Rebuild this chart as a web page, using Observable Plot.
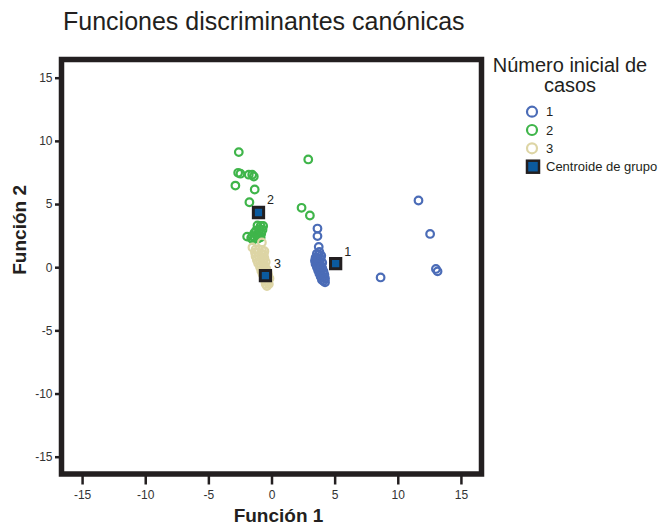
<!DOCTYPE html>
<html><head><meta charset="utf-8">
<script src="https://cdn.jsdelivr.net/npm/d3@7"></script>
<script src="https://cdn.jsdelivr.net/npm/@observablehq/plot@0.6"></script>
<style>
body{margin:0;background:#fff;}
#wrap{position:relative;width:663px;height:526px;font-family:"Liberation Sans",Arial,sans-serif;color:#231f20;background:#fff;}
#chart{position:absolute;left:0;top:0;}
#title{position:absolute;left:63px;top:9px;font-size:25px;line-height:25px;white-space:nowrap;}
#legtitle{position:absolute;left:490px;top:55px;width:160px;text-align:center;font-size:20px;line-height:20px;}
#legend{position:absolute;left:520px;top:100px;overflow:visible;}
</style></head><body>
<div id="wrap">
  <div id="chart"></div>
  <div id="title">Funciones discriminantes canónicas</div>
  <div id="legtitle">Número inicial de<br>casos</div>
  <svg id="legend" width="143" height="78"></svg>
</div>
<script>
// Group 1 (Número inicial de casos = 1)
const group1 = [
  [3.6,3.1],[3.6,2.5],[3.7,1.65],
  [3.75,1.25],[3.55,1.1],[3.7,1.0],[3.9,0.95],[3.45,0.8],[3.6,0.75],[3.85,0.7],[3.4,0.55],[3.55,0.5],[3.75,0.45],[3.98,0.4],
  [3.45,0.3],[3.6,0.25],[3.85,0.2],[3.55,0.05],[3.7,0.0],[3.98,-0.05],[3.65,-0.2],[3.8,-0.25],[4.08,-0.3],[3.75,-0.45],[3.9,-0.5],[4.15,-0.55],
  [3.85,-0.7],[4.0,-0.75],[4.2,-0.85],[3.95,-0.95],[4.08,-1.05],[4.2,-1.15],[3.65,0.6],[3.9,0.05],
  [8.6,-0.77],[11.6,5.32],[12.52,2.67],[12.98,-0.1],[13.11,-0.29]
];
// Group 2
const group2 = [
  [-2.63,9.15],[-2.68,7.51],[-2.5,7.44],[-1.84,7.36],[-1.57,7.36],[-1.44,7.22],[-2.9,6.5],
  [-1.37,6.19],[-1.79,5.18],[2.87,8.57],[2.34,4.74],[3.0,4.13],[-1.97,2.46],
  [-1.15,3.35],[-0.9,3.3],[-0.7,3.3],[-1.0,3.05],[-0.75,3.0],[-1.25,2.95],[-1.05,2.8],[-1.4,2.75],[-0.85,2.7],
  [-1.2,2.55],[-1.55,2.5],[-1.0,2.5],[-1.35,2.35],[-1.65,2.35],[-1.1,2.3],[-1.5,2.2],[-0.9,2.4]
];
// Group 3
const group3 = [
  [-1.55,1.6],[-0.8,2.0],
  [-1.3,1.45],[-1.05,1.45],[-0.8,1.4],[-0.6,1.3],[-1.35,1.2],[-1.1,1.2],[-0.85,1.1],[-0.65,1.05],[-1.3,0.9],[-1.05,0.9],
  [-0.8,0.8],[-0.6,0.75],[-1.2,0.6],[-0.95,0.55],[-0.7,0.5],[-0.5,0.45],[-1.1,0.35],[-0.85,0.3],[-0.6,0.2],[-0.95,0.05],
  [-0.7,-0.05],[-0.45,-0.1],[-0.85,-0.25],[-0.6,-0.3],[-0.35,-0.35],[-0.75,-0.5],[-0.5,-0.55],[-0.3,-0.6],[-0.65,-0.8],
  [-0.4,-0.85],[-0.2,-0.85],[-0.55,-1.05],[-0.3,-1.1],[-0.5,-1.3],[-0.25,-1.3],[-0.4,-1.45]
];
const centroids = [[5.04,0.32],[-1.07,4.37],[-0.52,-0.63]];
const centroidLabels = ["1","2","3"];
const groupNames = ["1","2","3"];
const legendCentroid = "Centroide de grupo";
const xTicks = [-15,-10,-5,0,5,10,15];
const yTicks = [-15,-10,-5,0,5,10,15];
const colors = ["#4b6cb7","#3fb54a","#ddd5a5"];
const dark = "#231f20";
const centroidFill = "#0b5a9e";
const font = "'Liberation Sans', Arial, sans-serif";

const dotOpts = (c) => ({x: d => d[0], y: d => d[1], r: 3.8, stroke: c, strokeWidth: 2.2, fill: "none"});

const chart = Plot.plot({
  width: 663, height: 526,
  marginLeft: 61, marginRight: 182, marginTop: 59, marginBottom: 52.5,
  style: {fontFamily: font, background: "white", color: dark},
  x: {domain: [-16.67, 16.59]},
  y: {domain: [-16.33, 16.48]},
  marks: [
    Plot.dot(group1, dotOpts(colors[0])),
    Plot.dot(group2, dotOpts(colors[1])),
    Plot.dot(group3, dotOpts(colors[2])),
    Plot.dot(centroids, {x: d => d[0], y: d => d[1], symbol: "square", r: 5.8, fill: centroidFill, stroke: dark, strokeWidth: 3}),
    Plot.text(centroids, {x: d => d[0], y: d => d[1], text: (d, i) => centroidLabels[i], dx: 12, dy: -12, fontSize: 12.5, fill: dark}),
    Plot.frame({stroke: dark, strokeWidth: 5.5}),
    Plot.axisX({ticks: xTicks, tickSize: 11, tickPadding: 5, tickFormat: d => String(d), fontSize: 12, stroke: dark, strokeWidth: 2.5, fill: "#333", label: null}),
    Plot.axisY({ticks: yTicks, tickSize: 6, tickPadding: 3, tickFormat: d => String(d), fontSize: 12, stroke: dark, strokeWidth: 2.5, fill: "#333", label: null}),
    Plot.text(["Función 1"], {text: d => d, frameAnchor: "bottom", dy: 48, dx: 7, fontSize: 19, fontWeight: "bold", fill: dark}),
    Plot.text(["Función 2"], {text: d => d, frameAnchor: "left", rotate: -90, dx: -42, dy: 8, fontSize: 19, fontWeight: "bold", fill: dark})
  ]
});
document.getElementById("chart").appendChild(chart);

// legend
const leg = d3.select("#legend");
const rowsY = [11.7, 30, 48.3];
groupNames.forEach((g, i) => {
  leg.append("circle").attr("cx", 12).attr("cy", rowsY[i]).attr("r", 5).attr("fill", "none").attr("stroke", colors[i]).attr("stroke-width", 2.2);
  leg.append("text").attr("x", 26).attr("y", rowsY[i]).attr("dy", "0.35em").attr("font-size", 13).attr("font-family", font).attr("fill", dark).text(g);
});
leg.append("rect").attr("x", 7).attr("y", 60.7).attr("width", 12).attr("height", 12).attr("fill", centroidFill).attr("stroke", dark).attr("stroke-width", 2.5);
leg.append("text").attr("x", 26).attr("y", 66.7).attr("dy", "0.35em").attr("font-size", 13).attr("font-family", font).attr("fill", dark).text(legendCentroid);
</script>
</body></html>
